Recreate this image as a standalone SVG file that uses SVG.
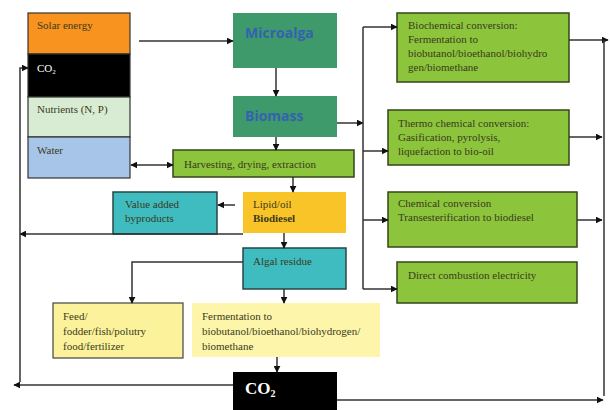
<svg xmlns="http://www.w3.org/2000/svg" width="610" height="410" viewBox="0 0 610 410">
<defs>
<marker id="ah" viewBox="0 0 10 10" refX="9" refY="5" markerWidth="7" markerHeight="7" orient="auto-start-reverse" markerUnits="userSpaceOnUse">
<path d="M0,0 L10,5 L0,10 z" fill="#111"/>
</marker>
<style>
.t{font-family:"Liberation Serif","Times New Roman",serif;font-size:11px;fill:#3a3a20}
.tw{font-family:"Liberation Serif","Times New Roman",serif;font-size:11px;fill:#fff}
.big{font-family:"Open Sans","DejaVu Sans",sans-serif;font-size:14px;font-weight:bold;fill:#3462b0}
.g{fill:#8cc43c;stroke:#34461a;stroke-width:1.5}
.teal{fill:#3fbcc0;stroke:#2a4545;stroke-width:1.5}
.dg{fill:#3e9a6b}
.c{fill:none;stroke:#333;stroke-width:1.5}
.a{fill:none;stroke:#333;stroke-width:1.5;marker-end:url(#ah)}
</style>
</defs>
<rect width="610" height="410" fill="#fff"/>
<g id="inputs">
<rect x="28" y="13" width="102" height="41" fill="#f7931e" stroke="#333" stroke-width="1.2"/>
<text class="t" x="37" y="29">Solar energy</text>
<rect x="28" y="54" width="102" height="43" fill="#000" stroke="#333" stroke-width="1.2"/>
<text class="tw" x="37" y="72">CO<tspan font-size="7" dy="2">2</tspan></text>
<rect x="28" y="97" width="102" height="40" fill="#d8ecd3" stroke="#333" stroke-width="1.2"/>
<text class="t" x="37" y="113">Nutrients (N, P)</text>
<rect x="28" y="137" width="102" height="41" fill="#a6c5e8" stroke="#333" stroke-width="1.2"/>
<text class="t" x="37" y="154">Water</text>
</g>
<g id="microalga">
<rect class="dg" x="233" y="13" width="104" height="55"/>
<text class="big" x="245" y="38">Microalga</text>
</g>
<g id="biomass">
<rect class="dg" x="233" y="96" width="104" height="41"/>
<text class="big" x="245" y="121">Biomass</text>
</g>
<g id="harvesting">
<rect class="g" x="173" y="150" width="181" height="27"/>
<text class="t" x="184" y="168">Harvesting, drying, extraction</text>
</g>
<g id="biochemical">
<rect class="g" x="397" y="13" width="172" height="69" stroke-width="1"/>
<text class="t" x="408" y="29">Biochemical conversion:</text>
<text class="t" x="408" y="43">Fermentation to</text>
<text class="t" x="408" y="57">biobutanol/bioethanol/biohydro</text>
<text class="t" x="408" y="71">gen/biomethane</text>
</g>
<g id="thermo">
<rect class="g" x="388" y="110" width="181" height="55"/>
<text class="t" x="398" y="127">Thermo chemical conversion:</text>
<text class="t" x="398" y="141">Gasification, pyrolysis,</text>
<text class="t" x="398" y="155">liquefaction to bio-oil</text>
</g>
<g id="chemical">
<rect class="g" x="388" y="192" width="189" height="55"/>
<text class="t" x="398" y="207">Chemical conversion</text>
<text class="t" x="398" y="221">Transesterification to biodiesel</text>
</g>
<g id="combustion">
<rect class="g" x="397" y="262" width="180" height="41"/>
<text class="t" x="408" y="279">Direct combustion electricity</text>
</g>
<g id="valueadded">
<rect class="teal" x="113" y="192" width="104" height="42"/>
<text class="t" x="125" y="208">Value added</text>
<text class="t" x="125" y="222">byproducts</text>
</g>
<g id="lipid">
<rect x="243" y="192" width="103" height="41" fill="#f8c427"/>
<text class="t" x="253" y="208">Lipid/oil</text>
<text class="t" x="253" y="222" font-weight="bold" fill="#222">Biodiesel</text>
</g>
<g id="algalresidue">
<rect class="teal" x="243" y="248" width="103" height="41"/>
<text class="t" x="253" y="265">Algal residue</text>
</g>
<g id="feed">
<rect x="53" y="303" width="130" height="55" fill="#fbf29b" stroke="#444" stroke-width="1.2"/>
<text class="t" x="63" y="320">Feed/</text>
<text class="t" x="63" y="335">fodder/fish/polutry</text>
<text class="t" x="63" y="350">food/fertilizer</text>
</g>
<g id="fermentation">
<rect x="192" y="303" width="188" height="54" fill="#fdf5aa"/>
<text class="t" x="202" y="320">Fermentation to</text>
<text class="t" x="202" y="335">biobutanol/bioethanol/biohydrogen/</text>
<text class="t" x="202" y="350">biomethane</text>
</g>
<g id="co2out">
<rect x="233" y="372" width="104" height="38" fill="#000"/>
<text x="245" y="394" font-family="Liberation Serif,serif" font-size="17" font-weight="bold" fill="#fff">CO<tspan font-size="10" dy="3">2</tspan></text>
</g>
<g id="connectors">
<path class="a" d="M139,41 H233"/>
<path class="a" d="M276,68 V96"/>
<path class="a" d="M276,137 V150"/>
<path class="a" d="M131,165 H173" marker-start="url(#ah)"/>
<path class="a" d="M293,177 V192"/>
<path class="a" d="M235,205 H218"/>
<path class="a" d="M243,234 H20"/>
<path class="a" d="M284,233 V248"/>
<path class="a" d="M243,262 H132 V303"/>
<path class="a" d="M284,289 V303"/>
<path class="a" d="M277,357 V372"/>
<path class="a" d="M233,385 H14"/>
<path class="a" d="M20,382 V68 H28"/>
<path class="a" d="M337,123 H363"/>
<path class="c" d="M363,27 V289"/>
<path class="a" d="M363,27 H397"/>
<path class="a" d="M363,151 H388"/>
<path class="a" d="M363,220 H388"/>
<path class="a" d="M363,289 H397"/>
<path class="a" d="M569,40 H608"/>
<path class="a" d="M569,137 H602"/>
<path class="a" d="M577,220 H602"/>
<path class="c" d="M604,40 V396"/>
<path class="a" d="M337,400 H603"/>
</g>
</svg>
